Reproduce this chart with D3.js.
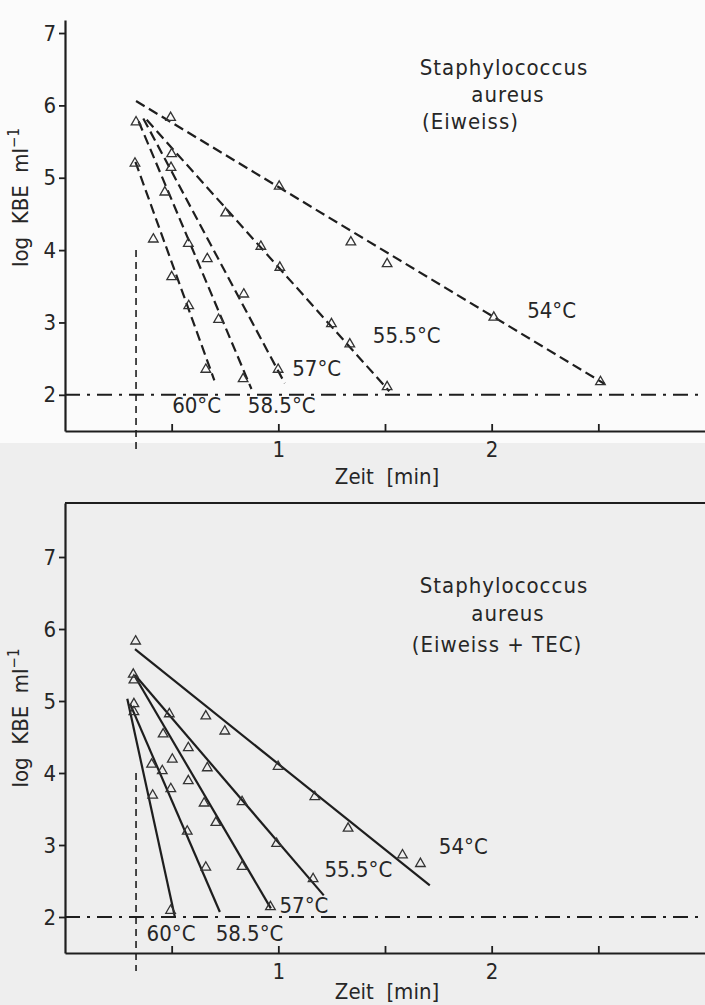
<!DOCTYPE html>
<html>
<head>
<meta charset="utf-8">
<script src="https://cdn.jsdelivr.net/npm/d3@7"></script>
<style>
  html, body { margin: 0; padding: 0; background: #fbfbfb; }
  svg { display: block; }
  text { font-family: "DejaVu Sans Condensed", "Liberation Sans Narrow", "DejaVu Sans", sans-serif; fill: #262626; }
</style>
</head>
<body>
<svg id="chart" width="705" height="1005"></svg>
<script>
// ---------------- DATA ----------------
const temps = ["54°C", "55.5°C", "57°C", "58.5°C", "60°C"];
const xTicks = [0.5, 1, 1.5, 2, 2.5];
const xTickLabels = ["", "1", "", "2", ""];
const yTicks = [2, 3, 4, 5, 6, 7];
const yTickLabels = ["2", "3", "4", "5", "6", "7"];
const titleEiweiss = ["Staphylococcus", "aureus", "(Eiweiss)"];
const titleTec = ["Staphylococcus", "aureus", "(Eiweiss + TEC)"];
const xLabel = "Zeit  [min]";
const yLabel = "log  KBE  ml";
const detectionLimit = 2;          // log KBE ml-1
const refTime = 0.333;             // min
const refSpan = [4.0, 1.25];

// top panel (Eiweiss): measured points [min, log KBE]
const eiweiss54  = [[0.495,5.83],[1.004,4.88],[1.34,4.11],[1.51,3.81],[2.01,3.07],[2.51,2.18]];
const eiweiss555 = [[0.50,5.33],[0.753,4.51],[0.918,4.05],[1.007,3.76],[1.249,2.98],[1.335,2.70],[1.51,2.11]];
const eiweiss57  = [[0.497,5.14],[0.667,3.88],[0.838,3.39],[0.999,2.35]];
const eiweiss585 = [[0.333,5.77],[0.468,4.80],[0.578,4.09],[0.72,3.04],[0.835,2.22]];
const eiweiss60  = [[0.328,5.20],[0.414,4.15],[0.50,3.63],[0.58,3.23],[0.66,2.35]];
// regression lines (start, end)
const eiweissFit = [
  [[0.333,6.06],[2.53,2.15]],
  [[0.383,5.80],[1.52,2.05]],
  [[0.367,5.82],[1.03,2.16]],
  [[0.345,5.78],[0.874,2.08]],
  [[0.33,5.22],[0.70,2.20]]
];

// bottom panel (Eiweiss + TEC)
const tec54  = [[0.331,5.83],[0.660,4.79],[0.749,4.58],[0.999,4.09],[1.171,3.67],[1.327,3.23],[1.582,2.86],[1.666,2.74]];
const tec555 = [[0.320,5.37],[0.489,4.82],[0.578,4.35],[0.667,4.07],[0.830,3.60],[0.992,3.02],[1.163,2.53]];
const tec57  = [[0.323,5.29],[0.460,4.54],[0.503,4.19],[0.578,3.89],[0.652,3.58],[0.707,3.31],[0.830,2.70],[0.963,2.14]];
const tec585 = [[0.323,4.85],[0.406,4.12],[0.456,4.03],[0.496,3.78],[0.573,3.19],[0.660,2.69]];
const tec60  = [[0.323,4.96],[0.411,3.69],[0.495,2.09]];
const tecFit = [
  [[0.328,5.72],[1.71,2.44]],
  [[0.328,5.36],[1.213,2.30]],
  [[0.328,5.34],[0.965,2.12]],
  [[0.305,4.96],[0.726,2.07]],
  [[0.292,5.03],[0.515,2.00]]
];

// ---------------- LAYOUT ----------------
const svg = d3.select("#chart");
const INK = "#1e1e1e";
const FONT = '"DejaVu Sans Condensed", "Liberation Sans Narrow", "DejaVu Sans", sans-serif';

svg.append("rect").attr("x", 0).attr("y", 0).attr("width", 705).attr("height", 443).attr("fill", "#fbfbfb");
svg.append("rect").attr("x", 0).attr("y", 443).attr("width", 705).attr("height", 562).attr("fill", "#eeeeee");

const panels = [
  {
    points: [eiweiss54, eiweiss555, eiweiss57, eiweiss585, eiweiss60],
    fits: eiweissFit, title: titleEiweiss, dashed: true, box: false,
    yRange: [431, 20], yDomain: [1.5, 7.18],
    labelPos: [[2.281, 3.175], [1.602, 2.83], [1.18, 2.37], [1.016, 1.86], [0.617, 1.86]],
    titleX: [504, 508, 422], titleAnchor: ["middle", "middle", "start"], titleY: [75, 102, 129],
    xLabelY: 484
  },
  {
    points: [tec54, tec555, tec57, tec585, tec60],
    fits: tecFit, title: titleTec, dashed: false, box: true,
    yRange: [953, 503], yDomain: [1.5, 7.75],
    labelPos: [[1.867, 2.985], [1.375, 2.66], [1.12, 2.17], [0.865, 1.78], [0.497, 1.78]],
    titleX: [504, 508, 497], titleAnchor: ["middle", "middle", "middle"], titleY: [593, 621, 652],
    xLabelY: 999
  }
];

panels.forEach(p => {
  const x = d3.scaleLinear().domain([0, 3]).range([65, 705]);
  const y = d3.scaleLinear().domain(p.yDomain).range(p.yRange);
  const g = svg.append("g");

  // detection limit (dash-dot)
  g.append("line")
    .attr("x1", x(0)).attr("x2", x(3))
    .attr("y1", y(detectionLimit)).attr("y2", y(detectionLimit))
    .attr("stroke", INK).attr("stroke-width", 2)
    .attr("stroke-dasharray", "15,7,3,7");

  // reference vertical dashed line
  g.append("line")
    .attr("x1", x(refTime)).attr("x2", x(refTime))
    .attr("y1", y(refSpan[0])).attr("y2", y(refSpan[1]))
    .attr("stroke", INK).attr("stroke-width", 1.6)
    .attr("stroke-dasharray", "7,5");

  if (p.box) {
    g.append("line")
      .attr("x1", x(0)).attr("x2", x(3))
      .attr("y1", y(p.yDomain[1])).attr("y2", y(p.yDomain[1]))
      .attr("stroke", INK).attr("stroke-width", 2.2);
  }

  // y axis
  const yAxis = d3.axisLeft(y).tickValues(yTicks)
    .tickFormat((d, i) => yTickLabels[i]).tickSizeInner(6).tickSizeOuter(0).tickPadding(3);
  const ya = g.append("g").attr("transform", `translate(${x(0)},0)`).call(yAxis);
  ya.select(".domain").attr("stroke", INK).attr("stroke-width", 2.2);
  ya.selectAll(".tick line").attr("stroke", INK).attr("stroke-width", 1.8);
  ya.selectAll(".tick text").attr("font-size", 22).attr("fill", "#262626").style("font-family", FONT);

  // x axis
  const xAxis = d3.axisBottom(x).tickValues(xTicks)
    .tickFormat((d, i) => xTickLabels[i]).tickSizeInner(-7).tickSizeOuter(0).tickPadding(10);
  const xa = g.append("g").attr("transform", `translate(0,${y(p.yDomain[0])})`).call(xAxis);
  xa.select(".domain").attr("stroke", INK).attr("stroke-width", 2.2);
  xa.selectAll(".tick line").attr("stroke", INK).attr("stroke-width", 1.8);
  xa.selectAll(".tick text").attr("font-size", 22).attr("fill", "#262626").style("font-family", FONT);

  // regression lines
  const line = d3.line().x(d => x(d[0])).y(d => y(d[1]));
  g.selectAll("path.fit").data(p.fits).enter().append("path")
    .attr("class", "fit")
    .attr("d", line)
    .attr("fill", "none").attr("stroke", INK).attr("stroke-width", 2.2)
    .attr("stroke-dasharray", p.dashed ? "10,5" : null);

  // points (open triangles)
  const tri = d3.symbol().type(d3.symbolTriangle).size(40);
  p.points.forEach(series => {
    g.selectAll(null).data(series).enter().append("path")
      .attr("d", tri)
      .attr("transform", d => `translate(${x(d[0])},${y(d[1])})`)
      .attr("fill", "none").attr("stroke", "#333").attr("stroke-width", 1.3);
  });

  // temperature labels
  g.selectAll(null).data(temps).enter().append("text")
    .attr("x", (d, i) => x(p.labelPos[i][0]))
    .attr("y", (d, i) => y(p.labelPos[i][1]))
    .attr("dy", "0.36em")
    .attr("text-anchor", "middle")
    .attr("font-size", 22)
    .text(d => d);

  // title
  g.selectAll(null).data(p.title).enter().append("text")
    .attr("x", (d, i) => p.titleX[i])
    .attr("y", (d, i) => p.titleY[i])
    .attr("text-anchor", (d, i) => p.titleAnchor[i])
    .attr("font-size", 22)
    .attr("letter-spacing", 1)
    .text(d => d);

  // x label
  g.append("text").attr("x", 387).attr("y", p.xLabelY)
    .attr("text-anchor", "middle").attr("font-size", 22)
    .style("white-space", "pre")
    .text(xLabel);

  // y label (rotated)
  const yc = (p.yRange[0] + p.yRange[1]) / 2 + (p.box ? -10 : -28);
  const yl = g.append("text")
    .attr("transform", `translate(28,${yc}) rotate(-90)`)
    .attr("text-anchor", "middle").attr("font-size", 22)
    .style("white-space", "pre");
  yl.append("tspan").text(yLabel);
  yl.append("tspan").attr("dy", -9).attr("font-size", 15).text("−1");
});
</script>
</body>
</html>
